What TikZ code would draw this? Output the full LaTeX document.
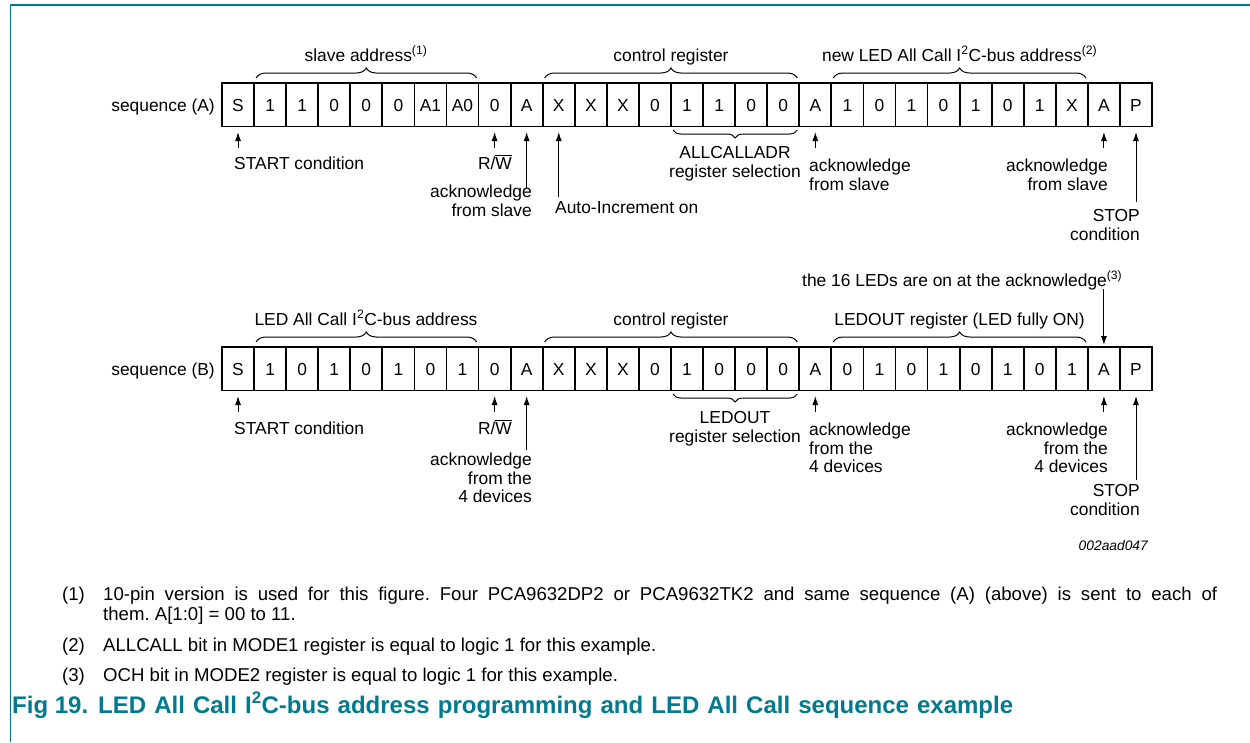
\documentclass[tikz,border=0pt]{standalone}
\usepackage{fontspec}
\setmainfont{Liberation Sans}
\usetikzlibrary{arrows.meta,decorations.pathreplacing}
\definecolor{nxp}{RGB}{0,122,143}
\frenchspacing
\newcommand{\fs}{\fontsize{17.4}{18}\selectfont}
\newcommand{\fnote}{\fontsize{18.6}{20}\selectfont}
\newcommand{\ovW}{\leavevmode\vbox{\hrule height 1pt\kern 1.3pt\hbox{W}}}
\begin{document}
\begin{tikzpicture}[x=1pt,y=-1pt,
  bit/.style={draw, line width=1.8pt, minimum width=32.07pt, minimum height=43.5pt, inner sep=0pt, outer sep=0pt, text height=12.5pt, text depth=0pt, font=\fs},
  lbl/.style={inner sep=0pt, font=\fs},
  arr/.style={line width=1pt, -{Latex[length=9pt,width=6pt]}, shorten >=5.5pt},
  brc/.style={decorate, decoration={brace, amplitude=10pt}, line width=1pt},
  brcb/.style={decorate, decoration={brace, amplitude=8pt}, line width=1pt},
  fn/.style={inner sep=0pt, font=\fnote}
]
\useasboundingbox (0,0) rectangle (1250,742);
% frame
\draw[nxp, line width=1.3pt] (1250,5) -- (10.5,5) -- (10.5,742);

% ---------------- sequence (A)
\node[lbl, anchor=base east] (seqA) at (215,111) {sequence (A)};
\foreach \t [count=\i from 0] in {S,1,1,0,0,0,A1,A0,0,A,X,X,X,0,1,1,0,0,A,1,0,1,0,1,0,1,X,A,P}
  \node[bit] (a\i) at ({222+32.07*(\i+0.5)},104.75) {\t};

\draw[brc] ([xshift=2pt,yshift=5pt]a1.north west) -- ([xshift=-2pt,yshift=5pt]a7.north east);
\draw[brc] ([xshift=2pt,yshift=5pt]a10.north west) -- ([xshift=-2pt,yshift=5pt]a17.north east);
\draw[brc] ([xshift=2pt,yshift=5pt]a19.north west) -- ([xshift=-2pt,yshift=5pt]a26.north east);
\draw[brcb] ([xshift=-2pt,yshift=-3.5pt]a17.south east) -- ([xshift=2pt,yshift=-3.5pt]a14.south west);

\node[lbl, anchor=base] (tA1) at (366,61) {slave address\textsuperscript{(1)}};
\node[lbl, anchor=base] (tA2) at (671,61) {control register};
\node[lbl, anchor=base] (tA3) at (959.6,61) {new LED All Call I\textsuperscript{2}C-bus address\textsuperscript{(2)}};

\foreach \n/\len in {0/21.5, 8/21.5, 9/61.5, 10/70.5, 18/21.5, 27/21.5, 28/75.5}{
  \coordinate (ta\n) at ([yshift=-\len pt]a\n.south);
  \draw[arr] (ta\n) -- (a\n.south);
}
\node[lbl, anchor=base west] (startA) at (234,169.5) {START condition};
\node[lbl, anchor=base] (rwA) at (495,169.5) {R/\ovW};
\node[lbl, anchor=north east, align=right] (ackA9) at (532,184.4) {\strut acknowledge\\from slave};
\node[lbl, anchor=base west] (autoA) at (555,213) {Auto-Increment on};
\node[lbl, anchor=north, align=center] (selA) at (735,145.6) {\strut ALLCALLADR\\register selection};
\node[lbl, anchor=north west, align=left] (ackA18) at (809,158.4) {\strut acknowledge\\from slave};
\node[lbl, anchor=north east, align=right] (ackA27) at (1108,158.4) {\strut acknowledge\\from slave};
\node[lbl, anchor=north east, align=right] (stopA) at (1140,208.4) {\strut STOP\\condition};

% ---------------- sequence (B)
\node[lbl, anchor=base east] (seqB) at (215,375) {sequence (B)};
\foreach \t [count=\i from 0] in {S,1,0,1,0,1,0,1,0,A,X,X,X,0,1,0,0,0,A,0,1,0,1,0,1,0,1,A,P}
  \node[bit] (b\i) at ({222+32.07*(\i+0.5)},368.75) {\t};

\draw[brc] ([xshift=2pt,yshift=5pt]b1.north west) -- ([xshift=-2pt,yshift=5pt]b7.north east);
\draw[brc] ([xshift=2pt,yshift=5pt]b10.north west) -- ([xshift=-2pt,yshift=5pt]b17.north east);
\draw[brc] ([xshift=2pt,yshift=5pt]b19.north west) -- ([xshift=-2pt,yshift=5pt]b26.north east);
\draw[brcb] ([xshift=-2pt,yshift=-3.5pt]b17.south east) -- ([xshift=2pt,yshift=-3.5pt]b14.south west);

\node[lbl, anchor=base] (tB1) at (366,325) {LED All Call I\textsuperscript{2}C-bus address};
\node[lbl, anchor=base] (tB2) at (671,325) {control register};
\node[lbl, anchor=base] (tB3) at (959.6,325) {LEDOUT register (LED fully ON)};
\node[lbl, anchor=base west] (ledsB) at (802,286) {the 16 LEDs are on at the acknowledge\textsuperscript{(3)}};
\coordinate (tb27top) at ([yshift=58pt]b27.north);
\draw[arr, shorten >=2pt] (tb27top) -- (b27.north);

\foreach \n/\len in {0/21.5, 8/21.5, 9/59.5, 18/21.5, 27/21.5, 28/89.5}{
  \coordinate (tb\n) at ([yshift=-\len pt]b\n.south);
  \draw[arr] (tb\n) -- (b\n.south);
}
\node[lbl, anchor=base west] (startB) at (234,434) {START condition};
\node[lbl, anchor=base] (rwB) at (495,434) {R/\ovW};
\node[lbl, anchor=north east, align=right] (ackB9) at (532,452.4) {\strut acknowledge\\from the\\4 devices};
\node[lbl, anchor=north, align=center] (selB) at (735,410.4) {\strut LEDOUT\\register selection};
\node[lbl, anchor=north west, align=left] (ackB18) at (809,422.4) {\strut acknowledge\\from the\\4 devices};
\node[lbl, anchor=north east, align=right] (ackB27) at (1108,422.4) {\strut acknowledge\\from the\\4 devices};
\node[lbl, anchor=north east, align=right] (stopB) at (1140,483.4) {\strut STOP\\condition};

\node[inner sep=0pt, anchor=base east, font=\fontsize{13.8}{15}\selectfont\itshape] (code) at (1148,550) {002aad047};

% ---------------- notes
\node[fn, anchor=base west] (n1) at (62,600) {\makebox[41pt][l]{(1)}\makebox[1114pt][s]{10-pin version is used for this figure. Four PCA9632DP2 or PCA9632TK2 and same sequence (A) (above) is sent to each of}};
\node[fn, anchor=base west] (n1b) at (103,620) {them. A[1:0] = 00 to 11.};
\node[fn, anchor=base west] (n2) at (62,651) {\makebox[41pt][l]{(2)}ALLCALL bit in MODE1 register is equal to logic 1 for this example.};
\node[fn, anchor=base west] (n3) at (62,681) {\makebox[41pt][l]{(3)}OCH bit in MODE2 register is equal to logic 1 for this example.};
\node[inner sep=0pt, anchor=base west, text=nxp, font=\fontsize{24}{26}\selectfont\bfseries] (cap) at (12,713) {\makebox[86pt][l]{Fig 19.}\makebox[915pt][s]{LED All Call I\textsuperscript{2}C-bus address programming and LED All Call sequence example}};
\end{tikzpicture}
\end{document}
